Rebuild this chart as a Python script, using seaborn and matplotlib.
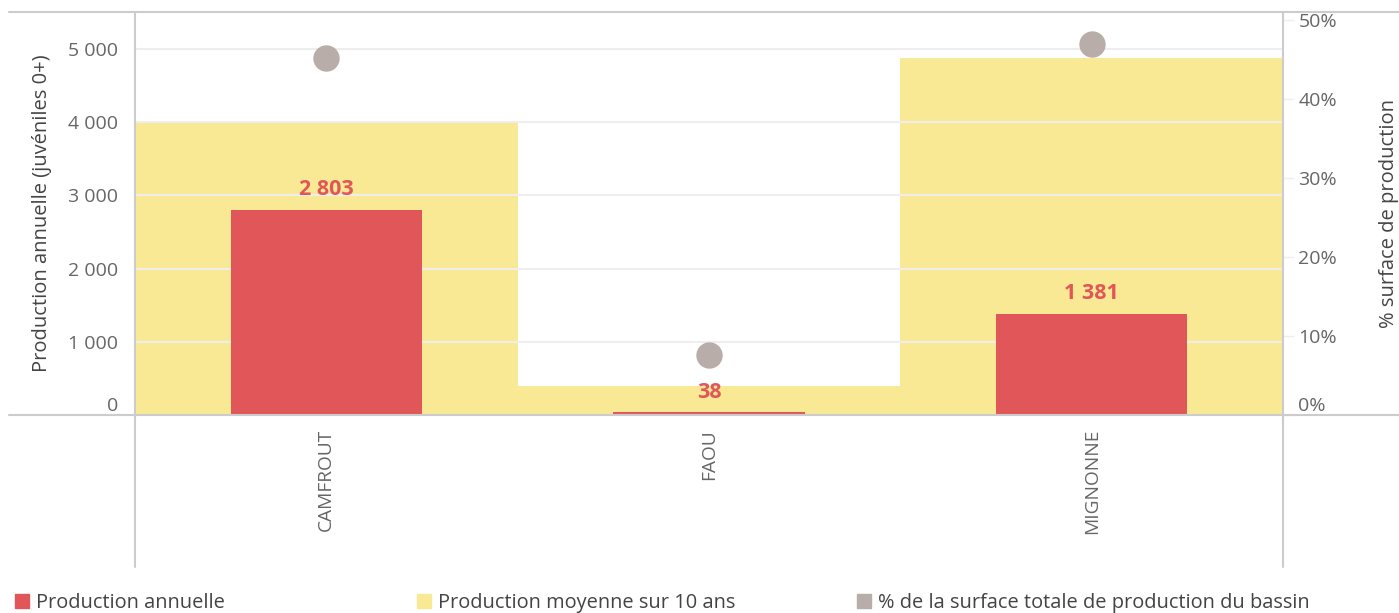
import numpy as np
import pandas as pd
import matplotlib
matplotlib.use("Agg")
import matplotlib.pyplot as plt
from matplotlib.lines import Line2D
from matplotlib.ticker import FuncFormatter, FixedLocator
import seaborn as sns

categories = ["CAMFROUT", "FAOU", "MIGNONNE"]
prod_annuelle = [2803, 38, 1381]
prod_moyenne = [4000, 390, 4880]
pct_surface = [45.2, 7.6, 47.0]

RED = "#E15759"
YELLOW = "#F9E994"
GREY = "#B9ADA9"
TXT = "#666666"
LINE = "#CCCCCC"

sns.set_theme(style="white")
plt.rcParams['font.family'] = ['Open Sans', 'DejaVu Sans']

df = pd.DataFrame({"cat": categories, "annuelle": prod_annuelle,
                   "moyenne": prod_moyenne, "pct": pct_surface})

W, H = 1399, 613
fig = plt.figure(figsize=(W / 100, H / 100), dpi=100)
ax = fig.add_axes([135 / W, 1 - 415 / H, (1283 - 135) / W, (415 - 12) / H])

sns.barplot(data=df, x="cat", y="moyenne", color=YELLOW, width=1.0,
            saturation=1, linewidth=0, ax=ax, zorder=0.3)
sns.barplot(data=df, x="cat", y="annuelle", color=RED, width=0.5,
            saturation=1, linewidth=0, ax=ax, zorder=2)

ax.set_ylim(0, 5505)
ax.set_xlim(-0.5, 2.5)
ax.set_axisbelow(True)
ax.yaxis.grid(True, color="#EEEEEE", linewidth=1.5)
ax.yaxis.set_major_locator(FixedLocator([0, 1000, 2000, 3000, 4000, 5000]))
ax.yaxis.set_major_formatter(FuncFormatter(lambda v, p: f"{int(v):,}".replace(",", " ")))
ax.tick_params(axis="y", length=0, pad=12, labelsize=14, labelcolor=TXT)
ax.tick_params(axis="x", length=0, pad=10, labelsize=13.8, labelcolor=TXT, labelrotation=90)
ax.xaxis.set_minor_locator(FixedLocator([0.5, 1.5]))
ax.tick_params(axis="x", which="minor", length=10, width=1, color="#EEEEEE", direction="out")
ax.set_xlabel("")
ax.set_ylabel("Production annuelle (juvéniles 0+)", fontsize=14.5, color="#444444", labelpad=12)
for s in ["top", "right", "left", "bottom"]:
    ax.spines[s].set_visible(False)

# value labels on red bars
for i, v in enumerate(prod_annuelle):
    ax.text(i, v + 130, f"{v:,}".replace(",", " "), ha="center", va="bottom",
            color=RED, fontsize=15.5, fontweight="bold", zorder=5)

ax2 = ax.twinx()
sns.stripplot(data=df, x="cat", y="pct", jitter=False, color=GREY, size=19,
              linewidth=0, ax=ax2, zorder=5)
ax2.set_xlim(-0.5, 2.5)
ax2.set_ylim(0, 51)
ax2.yaxis.set_major_locator(FixedLocator([0, 10, 20, 30, 40, 50]))
ax2.yaxis.set_major_formatter(FuncFormatter(lambda v, p: f"{int(v)}%"))
ax2.tick_params(axis="y", length=8, width=1, color="#EEEEEE", pad=3, labelsize=14, labelcolor=TXT)
ax2.set_ylabel("% surface de production", fontsize=14.5, color="#444444", labelpad=30)
ax2.set_xlabel("")
for s in ["top", "right", "left", "bottom"]:
    ax2.spines[s].set_visible(False)

# lift the zero labels above the base line
ax.get_yticklabels()[0].set_va("bottom")
ax2.get_yticklabels()[0].set_va("bottom")

# frame lines
def fline(x0, y0, x1, y1):
    fig.add_artist(Line2D([x0 / W, x1 / W], [1 - y0 / H, 1 - y1 / H],
                          color=LINE, linewidth=1.5))

fline(9, 12, W, 12)
fline(9, 415, W, 415)
fline(135, 12, 135, 567)
fline(1283, 12, 1283, 567)

# legend
items = [("Production annuelle", RED, 20),
         ("Production moyenne sur 10 ans", YELLOW, 422),
         ("% de la surface totale de production du bassin", GREY, 862)]
for label, col, x in items:
    h = Line2D([], [], marker="s", linestyle="", markersize=10,
               markerfacecolor=col, markeredgecolor=col)
    fig.legend(handles=[h], labels=[label], loc="center left",
               bbox_to_anchor=(x / W - 0.004, 1 - 603 / H), frameon=False,
               fontsize=14.4, handletextpad=0.3, borderpad=0, borderaxespad=0,
               labelcolor="#444444", handlelength=0.8)

fig.savefig("out.png", dpi=100)
